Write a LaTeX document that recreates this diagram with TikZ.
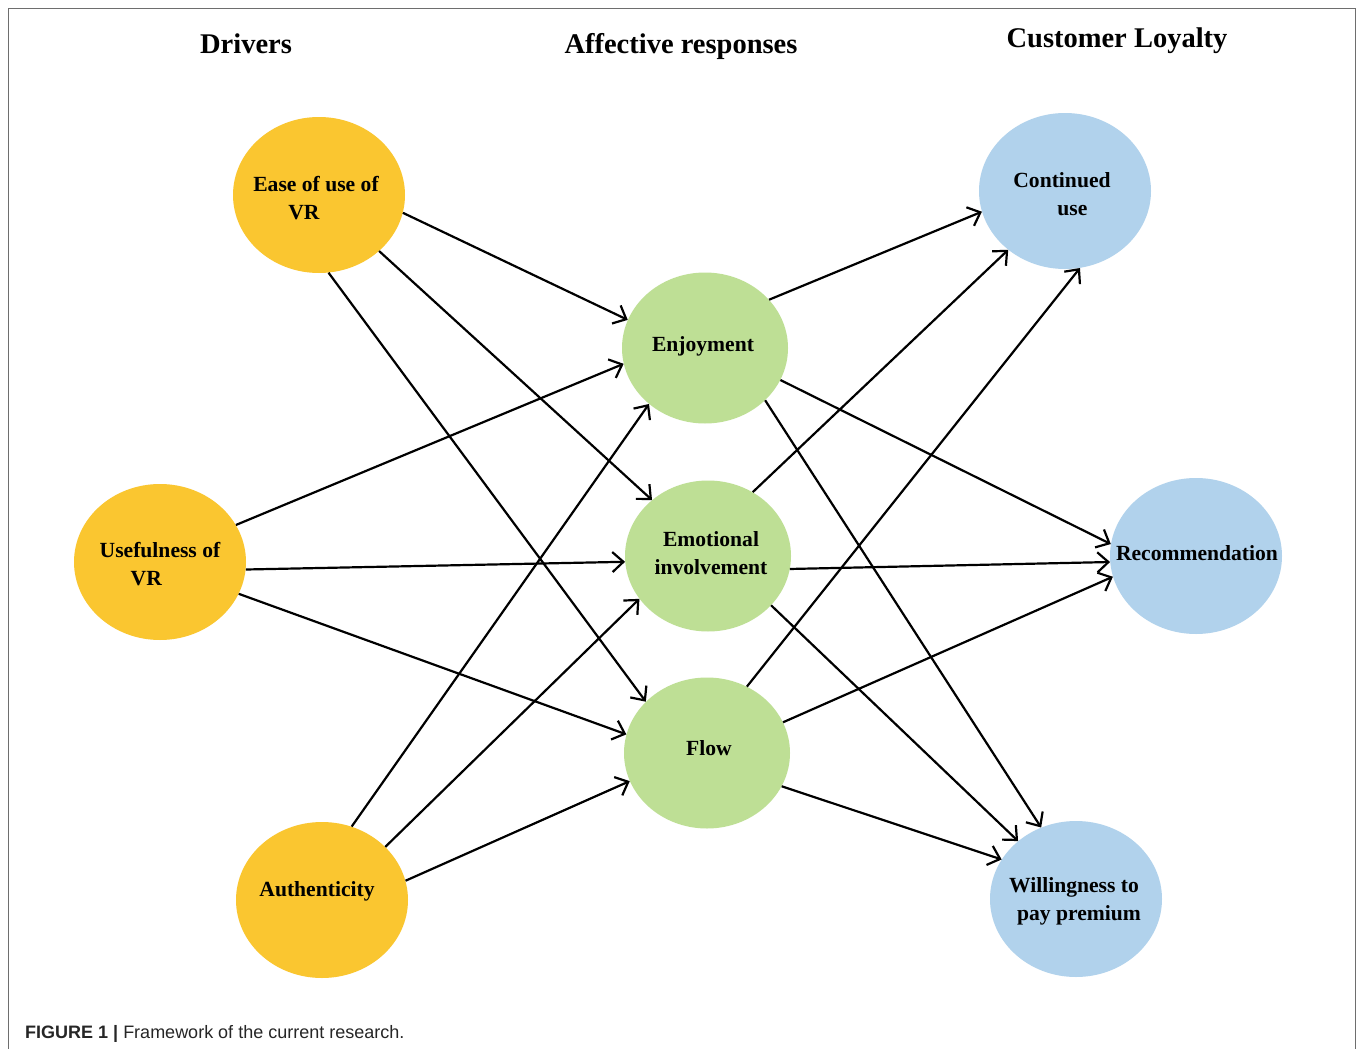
\documentclass[tikz,border=0pt]{standalone}
\usepackage{fontspec}
\setmainfont{Liberation Serif}
\setsansfont{Liberation Sans}
\usetikzlibrary{shapes.geometric,arrows.meta}

\definecolor{driver}{RGB}{250,198,48}
\definecolor{affect}{RGB}{190,223,149}
\definecolor{loyal}{RGB}{177,210,236}
\definecolor{frameline}{RGB}{110,110,110}

\tikzset{
  ell/.style={ellipse, draw=none, inner sep=0pt, minimum width=172pt, minimum height=156pt},
  drv/.style={ell, fill=driver},
  aff/.style={ell, fill=affect, minimum width=166pt, minimum height=151pt},
  loy/.style={ell, fill=loyal},
  lbl/.style={font=\fontsize{21.6}{28}\selectfont\bfseries, inner sep=0pt, align=left},
  head/.style={font=\fontsize{28.5}{32}\selectfont\bfseries, inner sep=0pt, anchor=base},
  link/.style={line width=2.2pt, -{Straight Barb[length=11pt,width=20pt,line width=2.2pt]}}
}

\begin{document}
\begin{tikzpicture}[x=1pt,y=-1pt]
  % page size and frame
  \useasboundingbox (0,0) rectangle (1358,1049);
  \fill[white] (0,0) rectangle (1358,1049);
  \draw[frameline, line width=1.6pt] (8.5,1049) -- (8.5,8.5) -- (1355.5,8.5) -- (1355.5,1049);

  % column headings
  \node[head] (hdrv) at (246,54) {Drivers};
  \node[head] (haff) at (681,54) {Affective responses};
  \node[head] (hloy) at (1117,48) {Customer Loyalty};

  % drivers
  \node[drv] (ease) at (319,195) {};
  \node[lbl] (easet) at (316,198) {Ease of use of\\\hspace*{35pt}VR};
  \node[drv] (useful) at (160,562) {};
  \node[lbl] (usefult) at (160,564) {Usefulness of\\\hspace*{31pt}VR};
  \node[drv] (auth) at (322,900) {};
  \node[lbl] (autht) at (317,891) {Authenticity};

  % affective responses
  \node[aff] (enjoy) at (705,348) {};
  \node[lbl] (enjoyt) at (703,346) {Enjoyment};
  \node[aff] (emot) at (708,556) {};
  \node[lbl, align=center] (emott) at (711,553) {Emotional\\involvement};
  \node[aff] (flow) at (707,753) {};
  \node[lbl] (flowt) at (709,748) {Flow};

  % customer loyalty
  \node[loy] (cont) at (1065,191) {};
  \node[lbl] (contt) at (1062,194) {Continued\\\hspace*{44pt}use};
  \node[loy] (rec) at (1196,556) {};
  \node[lbl] (rect) at (1197,553) {Recommendation};
  \node[loy] (will) at (1076,899) {};
  \node[lbl] (willt) at (1075,901) {Willingness to\\\hspace*{8pt}pay premium};

  % drivers -> affective responses
  \draw[link] (ease.-12)   -- (enjoy.160);
  \draw[link] (ease.-43)   -- (emot.135.5);
  \draw[link] (ease.-83.4) -- (flow.140);
  \draw[link] (useful.26.3) -- (enjoy.-169.8);
  \draw[link] (useful.-5.3) -- (emot.184.3);
  \draw[link] (useful.-22.5) -- (flow.167);
  \draw[link] (auth.68.2) -- (enjoy.225);
  \draw[link] (auth.40)   -- (emot.212.9);
  \draw[link] (auth.13.9) -- (flow.200);

  % affective responses -> customer loyalty
  \draw[link] (enjoy.37)    -- (cont.194);
  \draw[link] (enjoy.-23.7) -- (rec.172.5);
  \draw[link] (enjoy.-41)   -- (will.116.2);
  \draw[link] (emot.55.5)   -- (cont.226.5);
  \draw[link] (emot.-9.5)   -- (rec.184);
  \draw[link] (emot.-38.3)  -- (will.135);
  \draw[link] (flow.59)     -- (cont.-79.8);
  \draw[link] (flow.22)     -- (rec.194.7);
  \draw[link] (flow.-24.4)  -- (will.152.8);

  % caption
  \node[anchor=base west, inner sep=0pt, font=\sffamily\fontsize{18}{22}\selectfont, text=black!85] (cap) at (25,1038)
    {\textbf{FIGURE 1 |} Framework of the current research.};
\end{tikzpicture}
\end{document}
